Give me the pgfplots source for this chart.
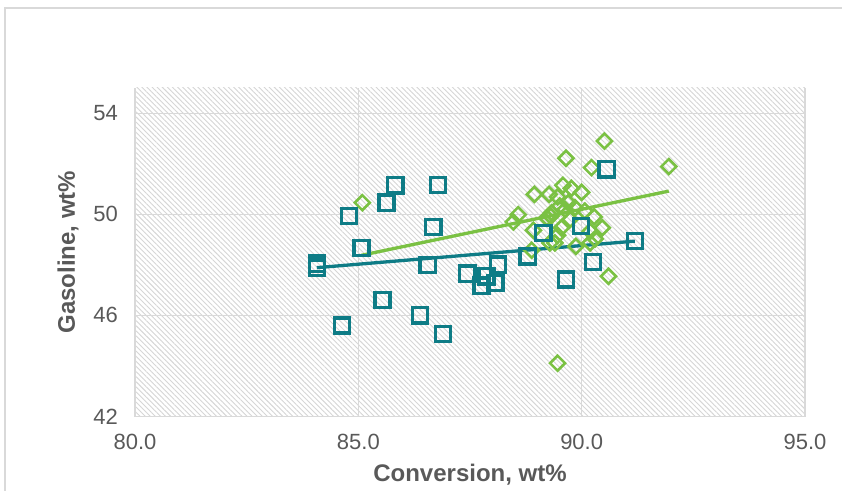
\documentclass[border=0pt]{standalone}
\usepackage{fontspec}
\setmainfont{Liberation Sans}
\usepackage{pgfplots}
\pgfplotsset{compat=1.18}
\usetikzlibrary{patterns.meta}
\definecolor{tealc}{HTML}{0E7C86}
\definecolor{greenc}{HTML}{7AC143}
\definecolor{txt}{HTML}{595959}
\definecolor{gridc}{HTML}{D9D9D9}
\begin{document}
\begin{tikzpicture}
\path[use as bounding box] (-135pt,-73.5pt) rectangle (707pt,416.5pt);
\draw[gridc, line width=1.2pt] (-130pt,-80pt) -- (-130pt,408.5pt) -- (720pt,408.5pt);
\begin{axis}[
  scale only axis,
  width=670pt, height=328.5pt,
  xmin=80, xmax=95, ymin=42, ymax=55,
  xtick={80,85,90,95}, ytick={42,46,50,54},
  grid=major,
  major grid style={gridc, line width=1.5pt},
  axis line style={draw=none},
  major tick length=0pt,
  axis background/.style={fill=white, postaction={pattern={Lines[angle=-45,distance=3.6pt,line width=0.9pt]}, pattern color=black!16}},
  /pgf/number format/assume math mode=true,
  tick label style={font=\fontsize{22}{26}\selectfont, text=txt},
  xticklabel style={yshift=-14pt, /pgf/number format/.cd, fixed, fixed zerofill, precision=1},
  yticklabel style={xshift=-13.5pt},
  every axis x label/.style={at={(axis description cs:0.5,0)}, yshift=-58.5pt, anchor=center},
  every axis y label/.style={at={(axis description cs:0,0.5)}, xshift=-67pt, rotate=90, anchor=center},
  label style={font=\bfseries\fontsize{24}{28}\selectfont, text=txt},
  xlabel={Conversion, wt\%},
  ylabel={Gasoline, wt\%},
  clip=false,
]
\addplot[only marks, mark=square, mark size=5.3pt, mark options={draw=greenc, fill=white, line width=2.6pt, rotate=45}] coordinates {
(85.09,50.46) (88.47,49.70) (88.58,49.99) (88.88,48.58) (88.92,49.37)
(88.94,50.79) (89.22,49.86) (89.27,50.79) (89.29,48.87) (89.31,49.93)
(89.33,50.06) (89.46,49.17) (89.46,44.11) (89.46,50.69) (89.51,50.33)
(89.55,49.47) (89.58,51.15) (89.63,50.19) (89.65,52.22) (89.70,50.46)
(89.74,49.80) (89.77,51.03) (89.85,50.26) (89.87,48.73) (90.00,50.87)
(90.07,50.13) (90.19,48.87) (90.19,49.33) (90.22,51.85) (90.28,49.90)
(90.30,49.03) (90.46,49.47) (90.51,52.90) (90.60,47.55) (91.95,51.89)
(89.40,48.87)
};
\addplot[only marks, mark=square, mark size=7.6pt, mark options={draw=tealc, fill=white, line width=3.3pt}] coordinates {
(84.07,48.05) (84.07,47.89) (84.79,49.93) (85.07,48.67) (85.63,50.46)
(85.83,51.15) (86.78,51.16) (86.68,49.49) (86.55,48.00) (85.54,46.62)
(84.63,45.60) (86.38,46.00) (86.90,45.26) (87.44,47.65) (87.87,47.55)
(87.76,47.18) (88.07,47.28) (88.13,48.01) (89.14,49.27) (89.98,49.53)
(91.19,48.94) (88.79,48.34) (90.25,48.12) (89.65,47.42) (90.56,51.78)
};
\addplot[greenc, line width=3.3pt] coordinates {(85.07,48.38) (91.95,50.92)};
\addplot[tealc, line width=3.3pt] coordinates {(84.07,47.89) (91.19,48.94)};
\end{axis}
\end{tikzpicture}
\end{document}
